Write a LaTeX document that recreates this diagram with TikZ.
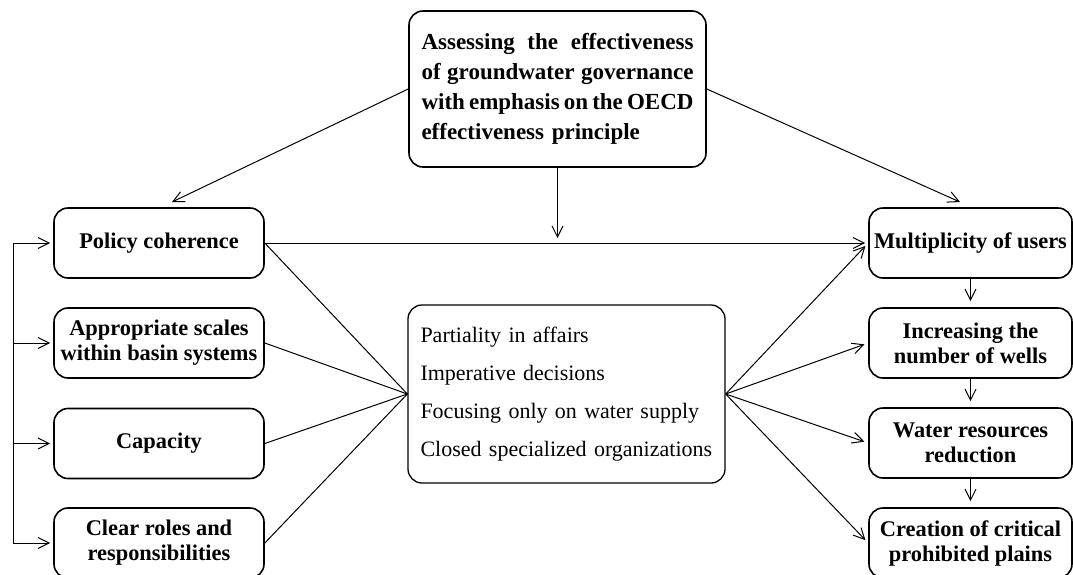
\documentclass[tikz,border=0pt]{standalone}
\usepackage{fontspec}
\setmainfont{Liberation Serif}
\usetikzlibrary{arrows.meta,calc}
\newcommand\jline[1]{\makebox[272pt][s]{\spaceskip=0pt\xspaceskip=0pt\relax #1}}
\tikzset{
  box/.style={draw, line width=1.6pt, rounded corners=14pt, align=center,
    font=\bfseries\fontsize{22.4}{25}\selectfont,
    minimum width=210pt, minimum height=70pt, inner sep=2pt},
  rbox/.style={box, minimum width=203pt},
  conn/.style={line width=1pt},
  arr/.style={conn, -{Straight Barb[length=11pt,width=11pt,line width=1pt]}},
}
\begin{document}
\begin{tikzpicture}[x=1pt,y=-1pt]
\clip (0,0) rectangle (1073,574);
\fill[white] (0,0) rectangle (1073,574);

% top box
\node[box, minimum width=297pt, minimum height=156pt, text width=272pt, align=left,
      font=\bfseries\fontsize{23}{30}\selectfont] (top) at (557.5,89)
  {\jline{Assessing the effectiveness}\\
   \jline{of groundwater governance}\\
   \jline{with emphasis on the OECD}\\
   effectiveness principle};

% left column
\node[box] (policy)   at (159,243) {Policy coherence};
\node[box] (scales)   at (159,343) {Appropriate scales\\within basin systems};
\node[box] (capacity) at (159,443.5) {Capacity};
\node[box] (roles)    at (159,543) {Clear roles and\\responsibilities};

% right column
\node[rbox] (users)  at (970.5,243) {Multiplicity of users};
\node[rbox] (wells)  at (970.5,343) {Increasing the\\number of wells};
\node[rbox] (water)  at (970.5,443) {Water resources\\reduction};
\node[rbox] (plains) at (970.5,543) {Creation of critical\\prohibited plains};

% middle box
\node[draw, line width=1.3pt, rounded corners=14pt, minimum width=317pt, minimum height=178pt,
      text width=292pt, align=left, inner sep=2pt,
      font=\fontsize{22}{38}\selectfont] (issues) at (566.5,394)
  {Partiality in affairs\\
   Imperative decisions\\
   Focusing only on water supply\\
   Closed specialized organizations};

% arrows from the top box
\coordinate (lt) at (172,202);
\coordinate (rt) at (960,202);
\coordinate (dt) at (557.5,238);
\draw[arr] (top.west) -- (lt);
\draw[arr] (top.east) -- (rt);
\draw[arr] (top.south) -- (dt);

% policy coherence to multiplicity of users
\draw[arr, shorten >=3pt] (policy.east) -- (users.west);

% left fan
\foreach \n in {policy,scales,capacity,roles}
  \draw[conn] (\n.east) -- (issues.west);

% right fan
\foreach \n in {users,wells,water,plains}
  \draw[arr, shorten >=4pt] (issues.east) -- (\n.west);

% right chain
\draw[arr, shorten >=6pt] (users.south) -- (wells.north);
\draw[arr, shorten >=6pt] (wells.south) -- (water.north);
\draw[arr, shorten >=6pt] (water.south) -- (plains.north);

% left bracket
\coordinate (bt) at (13,243);
\coordinate (bb) at (13,543);
\draw[conn] (bt) -- (bb);
\foreach \n in {policy,scales,capacity,roles}
  \draw[arr, shorten >=3pt] (bt |- \n.west) -- (\n.west);
\end{tikzpicture}
\end{document}
